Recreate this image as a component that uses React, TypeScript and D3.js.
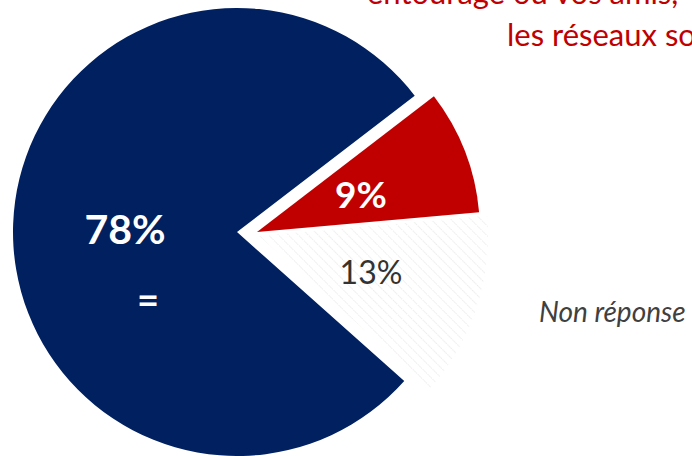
import React from "react";
import * as d3 from "d3";

const categories = ["Oui", "Non réponse", "Non"];
const values = [9, 13, 78];
const valueLabels = ["9%", "13%", "78%"];
const titleLines = ["entourage ou vos amis,", "les réseaux sociaux"];
const sideLabel = "Non réponse";
const trendMark = "=";

const W = 692;
const H = 456;
const colors = ["#C00000", "url(#hatch)", "#002060"];
const centers: [number, number][] = [
  [257, 232],
  [259, 236],
  [237, 232],
];
const radii = [223, 229, 224];

export default function App() {
  const start = (52.5 * Math.PI) / 180;
  const pie = d3
    .pie<number>()
    .sort(null)
    .startAngle(start)
    .endAngle(start + 2 * Math.PI);
  const arcs = pie(values);
  const font = "Lato, 'Open Sans', sans-serif";

  return (
    <svg
      width={W}
      height={H}
      style={{ position: "absolute", left: 0, top: 0 }}
      fontFamily={font}
    >
      <defs>
        <pattern
          id="hatch"
          patternUnits="userSpaceOnUse"
          width="7"
          height="7"
          patternTransform="rotate(-45)"
        >
          <rect width="7" height="7" fill="#ffffff" />
          <line x1="0" y1="0" x2="0" y2="7" stroke="#e6e6e6" strokeWidth="1.5" strokeDasharray="1.5 0.8" />
        </pattern>
      </defs>
      <rect width={W} height={H} fill="#ffffff" />
      {arcs.map((a, i) => {
        const arc = d3.arc<d3.PieArcDatum<number>>().innerRadius(0).outerRadius(radii[i]);
        return (
          <path
            key={categories[i]}
            d={arc(a) || ""}
            transform={`translate(${centers[i][0]},${centers[i][1]})`}
            fill={colors[i]}
          />
        );
      })}
      <text x={367} y={4} fill="#C00000" fontSize={31} fontFamily={font}>
        {titleLines[0]}
      </text>
      <text x={507} y={46} fill="#C00000" fontSize={31} fontFamily={font}>
        {titleLines[1]}
      </text>
      <text x={125} y={244} textAnchor="middle" fill="#ffffff" fontWeight="bold" fontSize={41}>
        {valueLabels[2]}
      </text>
      <text x={148} y={314} textAnchor="middle" fill="#ffffff" fontWeight="bold" fontSize={38}>
        {trendMark}
      </text>
      <text x={361} y={208} textAnchor="middle" fill="#ffffff" fontWeight="bold" fontSize={37}>
        {valueLabels[0]}
      </text>
      <text x={371} y={284} textAnchor="middle" fill="#333333" fontSize={32}>
        {valueLabels[1]}
      </text>
      <text x={539} y={322} fill="#404040" fontStyle="italic" fontSize={28}>
        {sideLabel}
      </text>
    </svg>
  );
}
